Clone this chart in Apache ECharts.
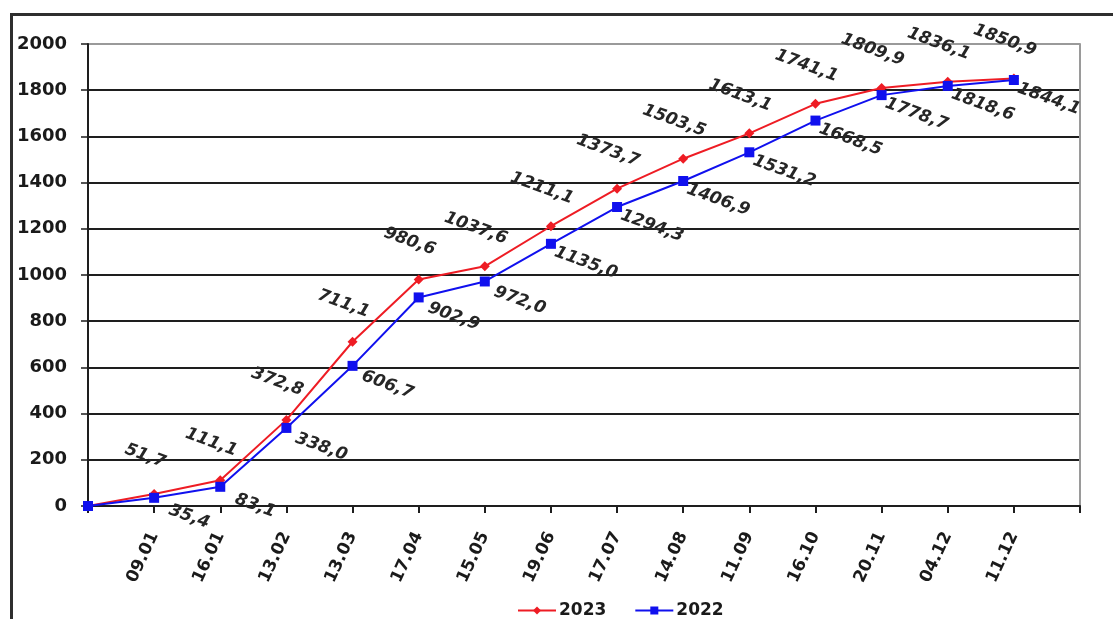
<!DOCTYPE html>
<html>
<head>
<meta charset="utf-8">
<script src="https://cdn.jsdelivr.net/npm/echarts@6/dist/echarts.min.js"></script>
<style>
  html, body { margin: 0; padding: 0; background: #ffffff; }
  #chart { width: 1113px; height: 619px; }
</style>
</head>
<body>
<div id="chart"></div>
<script>
// Report dates (first and last slots are unlabeled padding positions)
const categories = ['', '09.01', '16.01', '13.02', '13.03', '17.04', '15.05', '19.06',
  '17.07', '14.08', '11.09', '16.10', '20.11', '04.12', '11.12', ''];

// Cumulative totals per report date
const values2023 = [0, 51.7, 111.1, 372.8, 711.1, 980.6, 1037.6, 1211.1,
  1373.7, 1503.5, 1613.1, 1741.1, 1809.9, 1836.1, 1850.9, null];
const values2022 = [0, 35.4, 83.1, 338.0, 606.7, 902.9, 972.0, 1135.0,
  1294.3, 1406.9, 1531.2, 1668.5, 1778.7, 1818.6, 1844.1, null];

const seriesNames = ['2023', '2022'];

const yMin = 0, yMax = 2000, yStep = 200;

const chart = echarts.init(document.getElementById('chart'), null, { renderer: 'canvas' });

function fmt(p) {
  if (p.dataIndex === 0 || p.value == null) return '';
  return p.value.toFixed(1).replace('.', ',');
}

const labelFont = {
  fontFamily: 'DejaVu Sans',
  fontSize: 17,
  fontWeight: 'bold',
  fontStyle: 'italic',
  color: '#262626',
  rotate: -20,
  align: 'center',
  verticalAlign: 'middle',
  formatter: fmt
};

const gridColors = [];
for (let v = yMin; v <= yMax; v += yStep) gridColors.push(v === yMax ? '#9a9a9a' : '#1e1e1e');

chart.setOption({
  animation: false,
  backgroundColor: '#ffffff',
  graphic: [{
    type: 'rect',
    shape: { x: 11.5, y: 14.5, width: 1200, height: 700 },
    style: { fill: 'none', stroke: '#2e2e2e', lineWidth: 3 },
    silent: true
  }],
  grid: { left: 88, right: 33, top: 44, bottom: 113 },
  legend: {
    left: 512,
    top: 597,
    itemWidth: 38,
    itemHeight: 10,
    itemGap: 28,
    textStyle: { fontFamily: 'DejaVu Sans', fontWeight: 'bold', fontSize: 17, color: '#1a1a1a', padding: [0, 0, 0, -2] },
    data: seriesNames
  },
  xAxis: {
    type: 'category',
    data: categories,
    boundaryGap: false,
    axisLine: { lineStyle: { color: '#1e1e1e', width: 2 } },
    axisTick: { show: true, length: 7, interval: 0, lineStyle: { color: '#1e1e1e', width: 2 } },
    axisLabel: {
      interval: 0,
      rotate: 65,
      margin: 27,
      fontFamily: 'DejaVu Sans',
      fontWeight: 'bold',
      fontSize: 17,
      color: '#1a1a1a'
    },
    splitLine: { show: false }
  },
  yAxis: [{
    type: 'value',
    min: yMin,
    max: yMax,
    interval: yStep,
    axisLine: { show: true, lineStyle: { color: '#1e1e1e', width: 2 } },
    axisTick: { show: true, length: 7, lineStyle: { color: '#1e1e1e', width: 1.5 } },
    axisLabel: {
      margin: 21,
      fontFamily: 'DejaVu Sans',
      fontWeight: 'bold',
      fontSize: 18,
      color: '#1a1a1a',
      formatter: v => String(v)
    },
    splitLine: { show: true, lineStyle: { color: gridColors, width: 2 } }
  }, {
    type: 'value',
    position: 'right',
    min: yMin,
    max: yMax,
    interval: yStep,
    axisLine: { show: true, lineStyle: { color: '#9a9a9a', width: 2 } },
    axisTick: { show: false },
    axisLabel: { show: false },
    splitLine: { show: false }
  }],
  series: [{
    name: seriesNames[0],
    type: 'line',
    data: values2023,
    symbol: 'diamond',
    symbolSize: 10,
    itemStyle: { color: '#ee1c24' },
    lineStyle: { color: '#ee1c24', width: 2 },
    label: Object.assign({ show: true, position: [-4, -33] }, labelFont),
    z: 2
  }, {
    name: seriesNames[1],
    type: 'line',
    data: values2022,
    symbol: 'rect',
    symbolSize: 10,
    itemStyle: { color: '#1010ee' },
    lineStyle: { color: '#1010ee', width: 2 },
    label: Object.assign({ show: true, position: [40, 24] }, labelFont),
    z: 3
  }]
});
</script>
</body>
</html>
